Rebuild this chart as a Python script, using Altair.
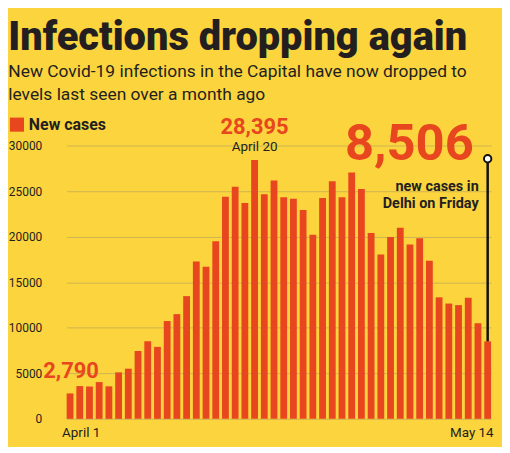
import altair as alt
import pandas as pd

# ---------------- data ----------------
april = [f"April {d}" for d in range(1, 31)]
may = [f"May {d}" for d in range(1, 15)]
days = april + may

cases = [2790, 3594, 3548, 4033, 3567, 5100, 5506, 7437, 8521, 7897,
         10732, 11491, 13468, 17282, 16699, 19486, 24375, 25462, 23686, 28395,
         24638, 26169, 24331, 24149, 22933, 20201, 24235, 26073, 24331, 27047,
         25219, 20394, 18043, 19953, 20960, 19133, 19832, 17364, 13336, 12651,
         12481, 13287, 10489, 8506]

series_name = "New cases"
y_ticks = [0, 5000, 10000, 15000, 20000, 25000, 30000]
x_labels = ["April 1", "May 14"]

title_text = "Infections dropping again"
subtitle_lines = ["New Covid-19 infections in the Capital have now dropped to",
                  "levels last seen over a month ago"]
note_lines = ["new cases in", "Delhi on Friday"]
leader_top = 28550

# ---------------- styling ----------------
BG = "#FCD43E"
RED = "#E8461E"
DARK = "#231F20"
GRID = "#CDB452"
FONT = "Roboto"

df = pd.DataFrame({"date": days, "cases": cases, "series": series_name})
first = df.iloc[[0]]
peak = df[df["cases"] == df["cases"].max()]
last = df.iloc[[-1]]

x_enc = alt.X("date:O", sort=days, title=None,
              scale=alt.Scale(range=[14, 441], paddingInner=0.3, paddingOuter=0),
              axis=alt.Axis(values=x_labels, domain=False, ticks=False, labelAngle=0,
                            labelFont=FONT, labelFontSize=13.5, labelColor=DARK,
                            labelPadding=7,
                            labelAlign=alt.condition("datum.value == 'April 1'", alt.value("left"), alt.value("right")),
                            labelOffset=alt.condition("datum.value == 'April 1'", alt.value(-8), alt.value(6))))
y_scale = alt.Scale(domain=[0, 30000])

bars = alt.Chart(df).mark_bar().encode(
    x=x_enc,
    y=alt.Y("cases:Q", scale=y_scale, title=None,
            axis=alt.Axis(values=y_ticks, domain=False, ticks=False, grid=True,
                          gridColor=GRID, gridWidth=1, labelFont=FONT, labelFontSize=12,
                          labelColor=DARK, labelPadding=11, format="d")),
    color=alt.Color("series:N", scale=alt.Scale(range=[RED]),
                    legend=alt.Legend(title=None, orient="none", legendX=-44, legendY=-29,
                                      symbolType="square", symbolSize=200, symbolStrokeWidth=0,
                                      labelFont=FONT, labelFontSize=16, labelFontWeight="bold",
                                      labelColor=DARK, padding=0, symbolOffset=0)),
)

t_first = alt.Chart(first).mark_text(font=FONT, fontSize=22, fontWeight="bold", color=RED,
                                     align="center", baseline="alphabetic", dx=1, dy=-16).encode(
    x=alt.X("date:O", sort=days), y="cases:Q", text=alt.Text("cases:Q", format=","))

t_peak = alt.Chart(peak).mark_text(font=FONT, fontSize=22, fontWeight="bold", color=RED,
                                   align="center", baseline="alphabetic", dy=-26).encode(
    x=alt.X("date:O", sort=days), y="cases:Q", text=alt.Text("cases:Q", format=","))

t_peak_date = alt.Chart(peak).mark_text(font=FONT, fontSize=13.5, color=DARK,
                                        align="center", baseline="alphabetic", dy=-9).encode(
    x=alt.X("date:O", sort=days), y="cases:Q", text="date:N")

t_last = alt.Chart(last).mark_text(font=FONT, fontSize=51, fontWeight="bold", color=RED,
                                   align="right", baseline="alphabetic", dx=-14, dy=-182).encode(
    x=alt.X("date:O", sort=days), y="cases:Q", text=alt.Text("cases:Q", format=","))

t_note = alt.Chart(last).mark_text(font=FONT, fontSize=14.5, fontWeight="bold", color=DARK,
                                   align="right", baseline="alphabetic", dx=-9, dy=-151,
                                   lineHeight=17, text=note_lines).encode(
    x=alt.X("date:O", sort=days), y="cases:Q")

leader = alt.Chart(last).mark_rule(color="#111111", strokeWidth=2.5).encode(
    x=alt.X("date:O", sort=days), y="cases:Q", y2=alt.datum(leader_top))

dot = alt.Chart(last).mark_point(filled=True, fill="white", stroke="#111111", strokeWidth=2,
                                 size=55, opacity=1, shape="circle").encode(
    x=alt.X("date:O", sort=days), y=alt.datum(leader_top))

chart = alt.layer(bars, leader, dot, t_first, t_peak, t_peak_date, t_last, t_note).properties(
    width=446, height=275,
    padding={"left": 0, "top": 9, "right": 6, "bottom": 6},
    background=BG,
    title=alt.TitleParams(text=title_text, subtitle=subtitle_lines, anchor="start", frame="bounds",
                          font=FONT, fontSize=40, fontWeight=900, color=DARK,
                          subtitleFont=FONT, subtitleFontSize=17.5, subtitleColor=DARK,
                          subtitleLineHeight=23, subtitlePadding=5, offset=13),
).configure_view(stroke=None).configure_legend(padding=0)

chart.save("out.html", embed_options={"renderer": "svg", "actions": False})
